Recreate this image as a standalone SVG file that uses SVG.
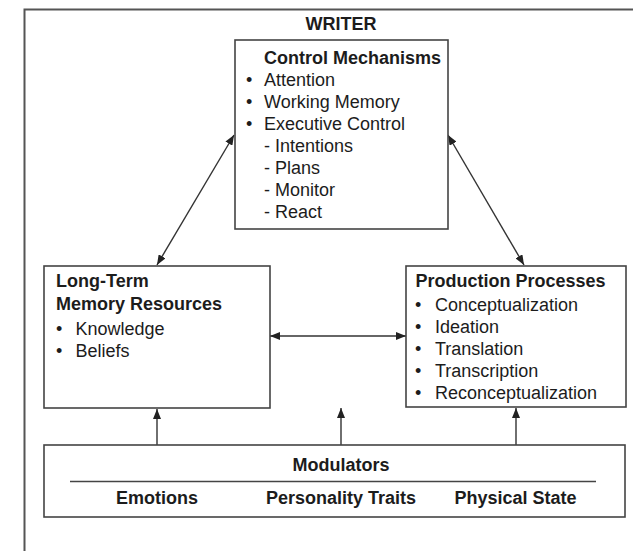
<svg xmlns="http://www.w3.org/2000/svg" width="633" height="551" viewBox="0 0 633 551">
<style>
  text { font-family: "Liberation Sans", Arial, sans-serif; font-size: 18px; fill: #1c1c1c; }
  .b { font-weight: bold; }
  .c { text-anchor: middle; }
  .box { fill: #fff; stroke: #444; stroke-width: 1.6; }
  .frame { fill: none; stroke: #555; stroke-width: 2; }
  .conn { fill: none; stroke: #333; stroke-width: 1.4; }
</style>
<defs>
  <marker id="ah" viewBox="0 0 10 8" refX="10" refY="4" markerWidth="10" markerHeight="8" markerUnits="userSpaceOnUse" orient="auto-start-reverse">
    <path d="M0,0 L10,4 L0,8 z" fill="#222"/>
  </marker>
</defs>
<rect width="633" height="551" fill="#fff"/>
<g id="frame">
  <path class="frame" d="M24.5,551 V9.5 H633"/>
  <text class="b c" x="341" y="30">WRITER</text>
</g>
<g id="connectors">
  <line class="conn" x1="157" y1="265" x2="234" y2="135" marker-start="url(#ah)" marker-end="url(#ah)"/>
  <line class="conn" x1="448" y1="135" x2="524" y2="265" marker-start="url(#ah)" marker-end="url(#ah)"/>
  <line class="conn" x1="270" y1="336" x2="406" y2="336" marker-start="url(#ah)" marker-end="url(#ah)"/>
  <line class="conn" x1="157" y1="445" x2="157" y2="409" marker-end="url(#ah)"/>
  <line class="conn" x1="341" y1="445" x2="341" y2="408" marker-end="url(#ah)"/>
  <line class="conn" x1="516" y1="445" x2="516" y2="408" marker-end="url(#ah)"/>
</g>
<g id="control">
  <rect class="box" x="235" y="40" width="213" height="189"/>
  <text class="b" x="264" y="64">Control Mechanisms</text>
  <text x="246" y="86">•</text><text x="264" y="86">Attention</text>
  <text x="246" y="108">•</text><text x="264" y="108">Working Memory</text>
  <text x="246" y="130">•</text><text x="264" y="130">Executive Control</text>
  <text x="264" y="152">- Intentions</text>
  <text x="264" y="174">- Plans</text>
  <text x="264" y="196">- Monitor</text>
  <text x="264" y="218">- React</text>
</g>
<g id="longterm">
  <rect class="box" x="44" y="266" width="226" height="142"/>
  <text class="b" x="56" y="287">Long-Term</text>
  <text class="b" x="56" y="310">Memory Resources</text>
  <text x="56" y="335">•</text><text x="75.5" y="335">Knowledge</text>
  <text x="56" y="357">•</text><text x="75.5" y="357">Beliefs</text>
</g>
<g id="production">
  <rect class="box" x="406" y="266" width="220" height="141"/>
  <text class="b" x="415.5" y="287">Production Processes</text>
  <text x="415" y="311">•</text><text x="435" y="311">Conceptualization</text>
  <text x="415" y="333">•</text><text x="435" y="333">Ideation</text>
  <text x="415" y="355">•</text><text x="435" y="355">Translation</text>
  <text x="415" y="377">•</text><text x="435" y="377">Transcription</text>
  <text x="415" y="399">•</text><text x="435" y="399">Reconceptualization</text>
</g>
<g id="modulators">
  <rect class="box" x="44" y="445" width="581" height="72"/>
  <text class="b c" x="341" y="471">Modulators</text>
  <line x1="70" y1="481.5" x2="596" y2="481.5" stroke="#444" stroke-width="1.4"/>
  <text class="b c" x="157" y="504">Emotions</text>
  <text class="b c" x="341" y="504">Personality Traits</text>
  <text class="b c" x="515.5" y="504">Physical State</text>
</g>
</svg>
